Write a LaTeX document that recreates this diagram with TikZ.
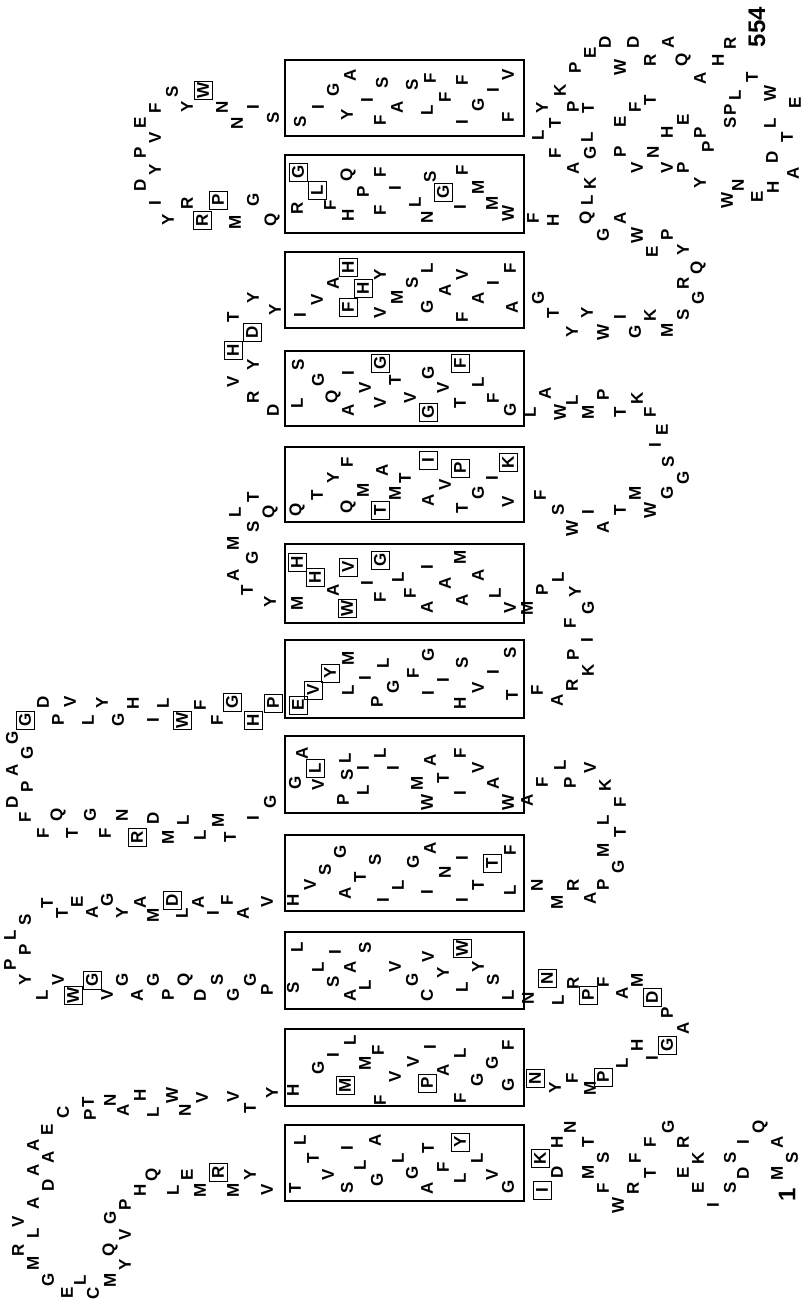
\documentclass[tikz,border=0pt]{standalone}
\usepackage{fontspec}
\setmainfont{Liberation Sans}
\usetikzlibrary{positioning}
\tikzset{
  res/.style={font=\bfseries\fontsize{17}{17}\selectfont, inner sep=0pt, rotate=90},
  hit/.style={res, draw, line width=1pt, minimum size=18pt},
  helix/.style={draw, line width=2pt},
  term/.style={font=\bfseries\fontsize{24}{24}\selectfont, inner sep=0pt, rotate=90},
}
\begin{document}
\begin{tikzpicture}[x=1pt,y=-1pt]
\useasboundingbox (0,0) rectangle (802,1304);
% membrane segments
\foreach \t/\b [count=\n] in {1125/1201,1029/1106,932/1009,835/911,736/813,640/718,544/623,447/522,351/426,252/328,155/233,60/136}
  \draw[helix] (285,\t) rectangle (524,\b);
% N-terminal tail
\foreach \x/\y/\a [count=\i] in {557/1172/D,557/1142/H,570/1127/N,588/1172/M,588/1142/T,603/1188/F,603/1158/S,618/1205/W,633/1188/R,635/1158/F,650/1173/T,650/1142/F,668/1127/G,683/1142/R,683/1173/E,698/1158/K,698/1188/E,713/1205/I,730/1188/S,730/1158/S,743/1173/D,743/1142/I,760/1127/Q,777/1142/A,777/1173/M,792/1158/S}
  \node[res] (nt\i) at (\x,\y) {\a};
\node[term] (first) at (787,1195) {1};
% TM1
\foreach \x/\y/\a [count=\i] in {295/1188/T,300/1140/L,313/1158/T,328/1175/V,347/1148/I,347/1188/S,360/1165/L,375/1140/A,377/1180/G,398/1158/L,412/1173/G,427/1188/A,428/1148/T,443/1167/F,460/1178/L,477/1158/L,492/1175/V,508/1187/G}
  \node[res] (ha\i) at (\x,\y) {\a};
% loop 1 (left)
\foreach \x/\y/\a [count=\i] in {267/1190/V,250/1175/Y,233/1190/M,200/1190/M,187/1175/E,173/1190/L,153/1175/Q,140/1190/H,125/1205/P,110/1218/G,125/1235/V,110/1250/Q,125/1265/Y,110/1280/M,93/1293/C,80/1280/L,67/1293/E,48/1280/G,33/1263/M,18/1250/R,33/1233/L,18/1222/V,33/1203/A,48/1185/D,33/1170/A,48/1157/A,33/1145/A,47/1130/E,63/1112/C,88/1102/T,90/1115/P,110/1100/N,123/1110/A,140/1095/H,153/1112/L,172/1095/W,185/1110/N,202/1098/V,233/1097/V,250/1108/T,272/1093/Y}
  \node[res] (la\i) at (\x,\y) {\a};
% TM2
\foreach \x/\y/\a [count=\i] in {293/1090/H,318/1068/G,333/1055/I,350/1040/L,365/1063/M,378/1050/F,380/1100/F,395/1077/V,413/1062/V,430/1047/I,443/1070/A,460/1053/L,460/1098/F,477/1080/G,492/1063/G,508/1045/F,508/1085/G}
  \node[res] (hb\i) at (\x,\y) {\a};
% loop 2 (right)
\foreach \x/\y/\a [count=\i] in {555/1088/Y,572/1078/F,590/1088/M,622/1063/L,637/1045/H,652/1058/I,683/1028/A,667/1013/P,637/980/M,622/993/A,603/982/F,573/983/R,558/1000/L,528/998/N}
  \node[res] (rb\i) at (\x,\y) {\a};
% TM3
\foreach \x/\y/\a [count=\i] in {293/988/S,297/947/L,318/967/L,333/982/S,335/952/I,350/995/A,350/967/A,365/948/S,365/985/L,395/967/V,412/980/G,427/995/C,428/957/V,443/973/Y,462/987/L,478/967/Y,493/980/S,508/995/L}
  \node[res] (hc\i) at (\x,\y) {\a};
% loop 3 (left)
\foreach \x/\y/\a [count=\i] in {267/990/P,250/980/G,233/995/G,217/980/S,200/995/D,185/980/Q,168/995/P,153/980/G,137/995/A,122/980/G,107/995/V,58/980/V,42/995/L,25/980/Y,10/965/P,25/950/P,10/935/L,25/920/S,47/903/T,62/913/T,77/902/E,92/912/A,107/900/G,122/913/Y,140/902/A,153/915/M,182/913/L,198/902/A,213/913/I,227/900/F,243/913/A,267/902/V}
  \node[res] (lc\i) at (\x,\y) {\a};
% TM4
\foreach \x/\y/\a [count=\i] in {293/900/H,310/885/V,325/870/S,340/852/G,345/893/A,360/877/T,375/860/S,383/900/I,398/885/L,413/862/G,430/848/A,427/892/I,445/872/N,462/858/I,462/900/I,478/885/T,510/850/F,510/890/L}
  \node[res] (hd\i) at (\x,\y) {\a};
% loop 4 (right)
\foreach \x/\y/\a [count=\i] in {537/885/N,557/902/M,573/885/R,590/898/A,603/885/P,618/867/G,603/850/M,620/832/T,603/820/L,620/802/F,605/785/K,590/768/V,570/783/P,560/765/L,542/782/F,527/800/A}
  \node[res] (rd\i) at (\x,\y) {\a};
% TM5
\foreach \x/\y/\a [count=\i] in {295/783/G,302/753/A,318/785/V,343/800/P,347/775/S,345/758/L,363/790/L,363/768/I,380/753/L,393/768/I,417/783/M,427/802/W,430/760/A,443/778/T,460/793/I,460/753/F,478/768/V,493/783/A,508/802/W}
  \node[res] (he\i) at (\x,\y) {\a};
% loop 5 (left)
\foreach \x/\y/\a [count=\i] in {270/802/G,253/818/I,230/837/T,218/820/M,200/835/L,183/820/L,168/837/M,153/818/D,122/815/N,105/833/F,90/815/G,72/833/T,58/815/Q,43/833/F,25/817/F,12/802/D,27/787/P,12/770/A,27/753/G,12/738/G,43/702/D,58/720/P,70/702/V,88/720/L,102/703/Y,118/720/G,133/703/H,153/720/I,163/703/L,200/705/F,217/720/F}
  \node[res] (le\i) at (\x,\y) {\a};
% TM6
\foreach \x/\y/\a [count=\i] in {348/658/M,348/690/L,365/678/I,383/663/L,377/702/P,393/687/G,413/673/F,428/655/G,428/693/I,443/680/I,462/663/S,460/703/H,478/688/V,493/672/I,510/653/S,512/695/T}
  \node[res] (hf\i) at (\x,\y) {\a};
% loop 6 (right)
\foreach \x/\y/\a [count=\i] in {537/690/F,557/700/A,572/685/R,588/670/K,573/655/P,587/640/I,570/623/F,588/608/G,575/592/Y,558/577/L,542/590/P,527/608/M}
  \node[res] (rf\i) at (\x,\y) {\a};
% TM7
\foreach \x/\y/\a [count=\i] in {297/603/M,333/590/A,367/583/I,380/597/F,398/577/L,410/593/F,427/567/I,427/607/A,445/583/A,460/557/M,462/600/A,478/575/A,495/593/L,510/608/V}
  \node[res] (hg\i) at (\x,\y) {\a};
% loop 7 (left)
\foreach \x/\y/\a [count=\i] in {270/602/Y,247/590/T,233/575/A,252/558/G,233/543/M,253/527/S,235/512/L,253/497/T,270/512/Q}
  \node[res] (lg\i) at (\x,\y) {\a};
% TM8
\foreach \x/\y/\a [count=\i] in {297/510/Q,317/495/T,333/478/Y,347/462/F,348/507/Q,363/490/M,382/470/A,395/493/M,405/478/T,428/500/A,445/485/V,462/508/T,478/493/G,492/478/I,508/502/V}
  \node[res] (hh\i) at (\x,\y) {\a};
% loop 8 (right)
\foreach \x/\y/\a [count=\i] in {540/495/F,558/510/S,572/528/W,588/512/I,603/527/A,620/510/T,635/493/M,650/510/W,667/493/G,683/478/G,668/462/S,655/445/I,662/430/E,650/412/F,637/398/K,620/412/T,603/395/P,588/412/M,572/400/L,560/412/W,545/393/A,530/412/L}
  \node[res] (rh\i) at (\x,\y) {\a};
% TM9
\foreach \x/\y/\a [count=\i] in {297/403/L,298/365/S,318/380/G,333/397/Q,348/410/A,348/373/I,365/388/V,380/403/V,395/380/T,410/398/V,428/373/G,443/388/V,460/403/T,478/382/L,493/398/F,510/410/G}
  \node[res] (hi\i) at (\x,\y) {\a};
% loop 9 (left)
\foreach \x/\y/\a [count=\i] in {273/410/D,253/397/R,233/382/V,253/365/Y,233/317/T,253/298/Y,275/310/Y}
  \node[res] (li\i) at (\x,\y) {\a};
% TM10
\foreach \x/\y/\a [count=\i] in {300/315/I,317/300/V,333/283/A,380/275/Y,380/313/V,397/297/M,412/283/S,427/307/G,427/268/L,445/290/A,462/275/V,462/317/F,478/298/A,493/283/I,510/268/F,512/307/A}
  \node[res] (hj\i) at (\x,\y) {\a};
% loop 10 (right)
\foreach \x/\y/\a [count=\i] in {538/298/G,553/313/T,572/332/Y,587/313/Y,603/332/W,620/317/I,635/332/G,650/315/K,667/330/M,683/315/S,698/298/G,683/283/R,698/268/Q,683/250/Y,667/235/P,652/252/E,637/235/W,620/218/A,603/235/G,587/218/Q,553/220/H,533/218/F}
  \node[res] (rj\i) at (\x,\y) {\a};
% TM11
\foreach \x/\y/\a [count=\i] in {297/208/R,330/205/F,348/175/Q,363/192/P,348/215/H,380/172/F,395/188/I,380/210/F,415/202/L,427/217/N,430/177/S,460/207/I,462/170/F,478/187/M,492/203/M,508/213/W}
  \node[res] (hk\i) at (\x,\y) {\a};
% loop 11 (left)
\foreach \x/\y/\a [count=\i] in {272/220/Q,253/200/G,235/222/M,187/203/R,168/220/Y,155/203/I,140/185/D,155/170/Y,140/153/P,155/138/V,140/123/E,155/108/F,172/92/S,187/107/Y,222/107/N,237/123/N,253/107/I,273/118/S}
  \node[res] (lk\i) at (\x,\y) {\a};
% TM12
\foreach \x/\y/\a [count=\i] in {300/122/S,318/107/I,333/90/G,350/75/A,347/115/Y,367/100/I,382/83/S,380/120/F,397/107/A,412/85/S,430/78/F,427/110/L,445/97/F,462/80/F,462/122/I,478/105/G,493/90/I,508/75/V,508/117/F}
  \node[res] (hl\i) at (\x,\y) {\a};
% C-terminal tail
\foreach \x/\y/\a [count=\i] in {538/135/L,555/153/F,542/108/Y,555/123/T,560/90/K,573/107/P,575/68/P,590/53/E,605/42/D,620/67/W,633/42/D,650/60/R,668/42/A,683/60/Q,700/78/A,718/60/H,730/43/R,752/77/T,770/93/W,795/103/E,770/123/L,787/137/T,772/157/D,793/173/A,773/187/H,757/197/E,738/185/N,727/200/W,700/183/Y,683/168/P,735/95/L,730/110/P,730/123/S,708/147/P,700/133/P,683/120/E,667/132/H,650/100/T,635/107/F,620/122/E,588/108/T,587/137/L,590/153/G,573/168/A,590/183/K,620/152/P,637/168/V,653/152/N,667/168/V,587/200/L}
  \node[res] (ct\i) at (\x,\y) {\a};
\node[term] (last) at (757,27) {554};
% boxed residues
\foreach \x/\y/\a [count=\i] in {542/1190/I,540/1158/K,460/1142/Y,218/1172/R,345/1085/M,427/1083/P,535/1078/N,603/1077/P,667/1045/G,652/997/D,588/995/P,547/978/N,462/948/W,73/995/W,92/980/G,172/900/D,492/863/T,315/768/L,137/837/R,25/720/G,182/720/W,232/702/G,253/720/H,273/703/P,298/705/E,313/690/V,330/673/Y,297/562/H,315/577/H,347/608/W,348/567/V,380/560/G,380/510/T,428/460/I,460/468/P,508/462/K,380/363/G,428/412/G,460/363/F,233/350/H,252/332/D,348/267/H,348/307/F,363/288/H,298/172/G,317/190/L,443/192/G,202/220/R,218/200/P,203/90/W}
  \node[hit] (bx\i) at (\x,\y) {\a};
\end{tikzpicture}
\end{document}
